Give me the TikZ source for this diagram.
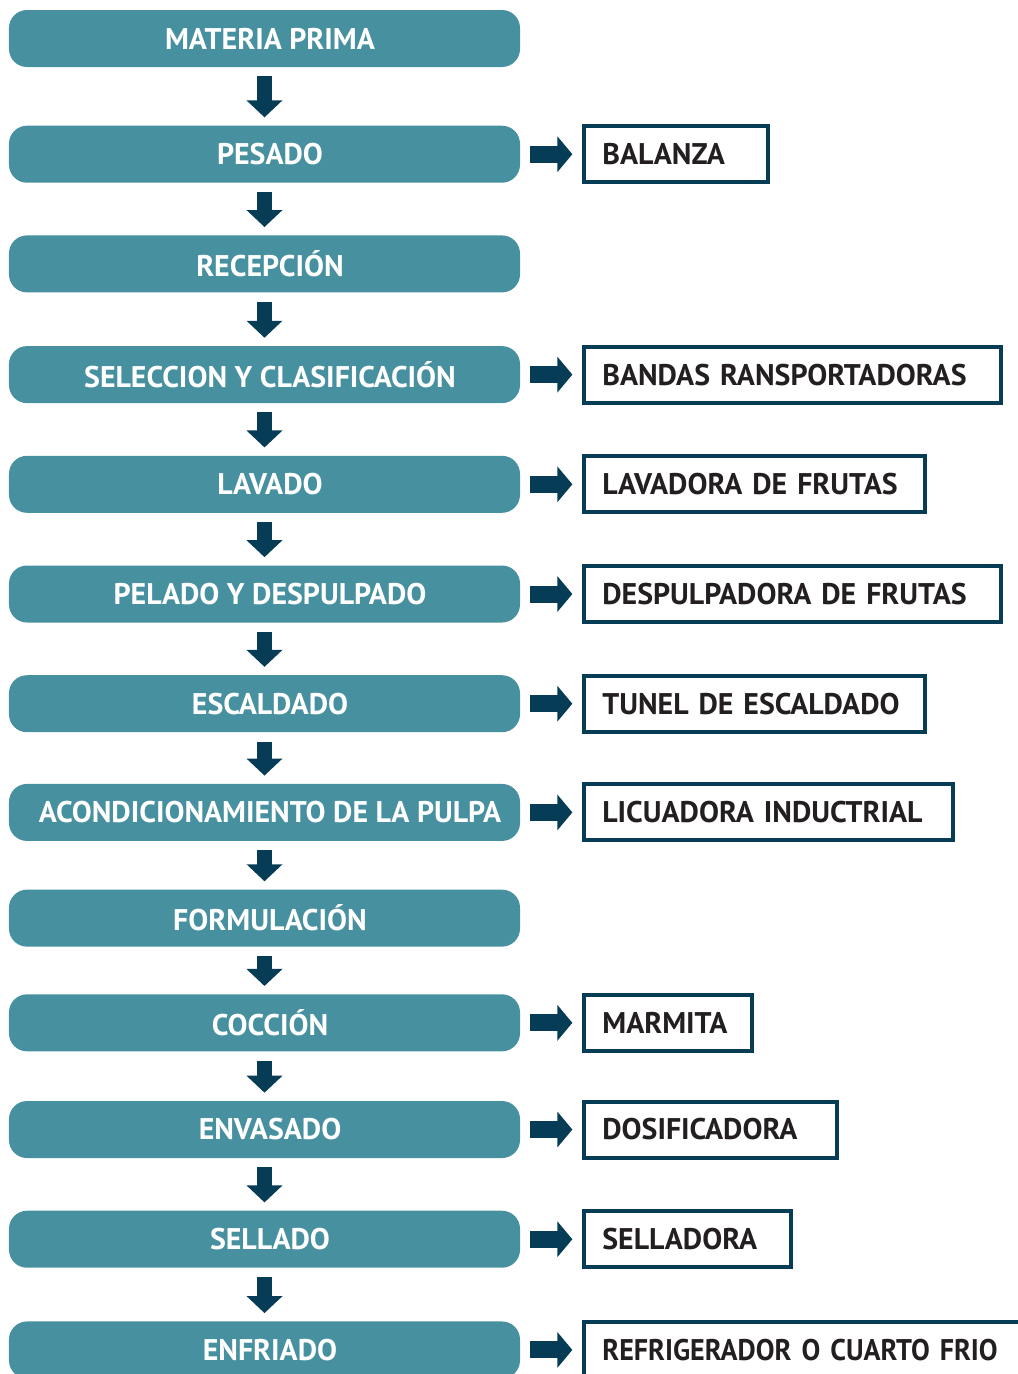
\documentclass[tikz,border=0pt]{standalone}
\usepackage{fontspec}
\setmainfont{PT Sans}
\newfontfamily\estrecha[FakeStretch=0.94,WordSpace=0.6]{PT Sans}
\usepackage{tikz}
\usetikzlibrary{
	positioning,
	arrows.meta
}
\definecolor{verdeazul}{HTML}{4790A0}
\definecolor{oscuro}{HTML}{063C55}
\definecolor{texto}{HTML}{231F20}

\tikzset{
	paso/.style={fill=verdeazul, rounded corners=0.36cm, minimum width=10.22cm,
		minimum height=1.14cm, text=white, font=\fontsize{17}{20}\selectfont\bfseries,
		execute at begin node={\hspace*{0.22cm}}},
	equipo/.style={draw=oscuro, line width=0.08cm, minimum height=1.12cm,
		inner xsep=0.36cm, align=left, text=texto, font=\fontsize{17}{20}\selectfont\bfseries},
	bajar/.style={oscuro, line width=0.3cm, shorten <=0.18cm, shorten >=0.16cm,
		-{Triangle[width=0.7cm,length=0.34cm]}},
	lado/.style={oscuro, line width=0.34cm, shorten <=0.2cm, shorten >=0.2cm,
		-{Triangle[width=0.7cm,length=0.3cm]}}
}

\begin{document}
\begin{tikzpicture}
	\useasboundingbox (0,0) rectangle (20.34,-27.48);

	\node[paso] (mp) at (5.29,-0.77) {MATERIA PRIMA};
	\node[paso, below=1.16cm of mp]   (pes)  {PESADO};
	\node[paso, below=1.04cm of pes]  (rec)  {RECEPCIÓN};
	\node[paso, below=1.06cm of rec]  (sel)  {SELECCION Y CLASIFICACIÓN};
	\node[paso, below=1.04cm of sel]  (lav)  {LAVADO};
	\node[paso, below=1.04cm of lav]  (pel)  {PELADO Y DESPULPADO};
	\node[paso, below=1.04cm of pel]  (esc)  {ESCALDADO};
	\node[paso, below=1.02cm of esc]  (aco)  {ACONDICIONAMIENTO DE LA PULPA};
	\node[paso, below=0.96cm of aco]  (form) {FORMULACIÓN};
	\node[paso, below=0.94cm of form] (coc)  {COCCIÓN};
	\node[paso, below=0.98cm of coc]  (env)  {ENVASADO};
	\node[paso, below=1.04cm of env]  (sell) {SELLADO};
	\node[paso, below=1.06cm of sell] (enf)  {ENFRIADO};

	% equipos
	\node[equipo, text width=2.96cm, right=1.24cm of pes]  (bal)  {BALANZA};
	\node[equipo, text width=7.62cm, right=1.24cm of sel]  (ban)  {BANDAS RANSPORTADORAS};
	\node[equipo, text width=6.10cm, right=1.24cm of lav]  (lavf) {LAVADORA DE FRUTAS};
	\node[equipo, text width=7.62cm, right=1.24cm of pel]  (desp) {DESPULPADORA DE FRUTAS};
	\node[equipo, text width=6.10cm, right=1.24cm of esc]  (tun)  {TUNEL DE ESCALDADO};
	\node[equipo, text width=6.66cm, right=1.24cm of aco]  (lic)  {LICUADORA INDUCTRIAL};
	\node[equipo, text width=2.64cm, right=1.24cm of coc]  (mar)  {MARMITA};
	\node[equipo, text width=4.34cm, right=1.24cm of env]  (dos)  {DOSIFICADORA};
	\node[equipo, text width=3.42cm, right=1.24cm of sell] (sdor) {SELLADORA};
	\node[equipo, text width=8.60cm, right=1.24cm of enf,
		font=\fontsize{17}{20}\selectfont\estrecha\bfseries]
		(ref) {REFRIGERADOR O CUARTO FRIO};

	\draw[bajar] (mp) -- (pes);
	\draw[bajar] (pes) -- (rec);
	\draw[bajar] (rec) -- (sel);
	\draw[bajar] (sel) -- (lav);
	\draw[bajar] (lav) -- (pel);
	\draw[bajar] (pel) -- (esc);
	\draw[bajar] (esc) -- (aco);
	\draw[bajar] (aco) -- (form);
	\draw[bajar] (form) -- (coc);
	\draw[bajar] (coc) -- (env);
	\draw[bajar] (env) -- (sell);
	\draw[bajar] (sell) -- (enf);

	\draw[lado] (pes.east) -- (bal.west);
	\draw[lado] (sel.east) -- (ban.west);
	\draw[lado] (lav.east) -- (lavf.west);
	\draw[lado] (pel.east) -- (desp.west);
	\draw[lado] (esc.east) -- (tun.west);
	\draw[lado] (aco.east) -- (lic.west);
	\draw[lado] (coc.east) -- (mar.west);
	\draw[lado] (env.east) -- (dos.west);
	\draw[lado] (sell.east) -- (sdor.west);
	\draw[lado] (enf.east) -- (ref.west);
\end{tikzpicture}
\end{document}
